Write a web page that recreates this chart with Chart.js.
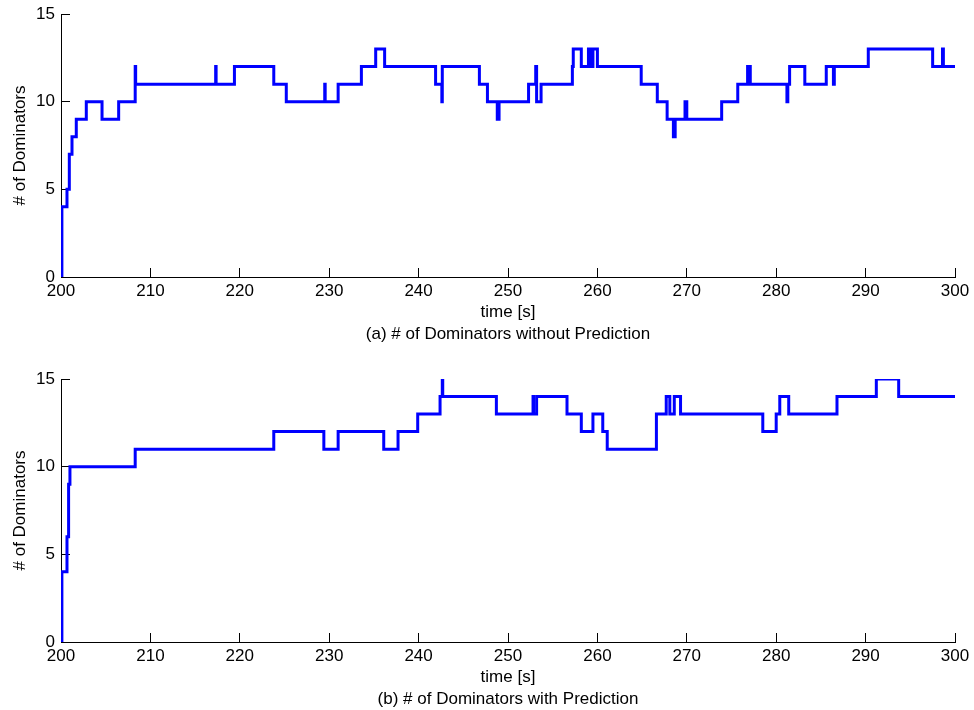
<!DOCTYPE html>
<html>
<head>
<meta charset="utf-8">
<title># of Dominators</title>
<script src="https://cdn.jsdelivr.net/npm/chart.js@4/dist/chart.umd.min.js"></script>
<style>
  html, body { margin: 0; padding: 0; background: #fff; }
  #wrap { position: relative; width: 974px; height: 710px; }
  canvas { position: absolute; left: 0; }
  #plotA { top: 0; }
  #plotB { top: 365px; }
</style>
</head>
<body>
<div id="wrap">
  <canvas id="plotA" width="974" height="345"></canvas>
  <canvas id="plotB" width="974" height="345"></canvas>
</div>
<script>
// change points: at time t the count switches to the value at the same index
const timesNoPred = [200, 200.1, 200.67, 200.93, 201.23, 201.71, 202.83, 204.59, 206.45,
  208.3, 208.35, 217.3, 217.35, 219.4, 223.8, 225.2, 229.5, 229.55, 231.0,
  233.6, 235.2, 236.2, 241.9, 242.6, 242.65, 246.8, 247.7, 248.8, 249.0,
  252.3, 253.1, 253.2, 253.7, 257.2, 257.3, 258.2, 259.0, 259.2, 259.5, 260.0,
  264.9, 266.7, 267.8, 268.5, 268.7, 269.8, 270.0, 273.9, 275.7, 276.8, 277.1,
  281.2, 281.3, 281.5, 283.2, 285.6, 286.4, 286.5, 290.3, 297.5, 298.6, 298.7, 300];
const countNoPred = [0, 4, 5, 7, 8, 9, 10, 9, 10,
  12, 11, 12, 11, 12, 11, 10, 11, 10, 11,
  12, 13, 12, 11, 10, 12, 11, 10, 9, 10,
  11, 12, 10, 11, 12, 13, 12, 13, 12, 13, 12,
  11, 10, 9, 8, 9, 10, 9, 10, 11, 12, 11,
  10, 11, 12, 11, 12, 11, 12, 13, 12, 13, 12, 12];

const timesPred = [200, 200.1, 200.67, 200.85, 201.0, 208.3, 223.8, 229.4, 231.0,
  236.1, 237.7, 239.9, 242.4, 242.65, 242.7, 248.7, 252.8, 252.85, 253.2,
  256.6, 258.2, 259.5, 260.6, 261.1, 266.6, 267.7, 268.1, 268.6, 269.3,
  278.5, 280.0, 280.4, 281.4, 286.8, 291.2, 293.7, 300];
const countPred = [0, 4, 6, 9, 10, 11, 12, 11, 12,
  11, 12, 13, 14, 15, 14, 13, 14, 13, 14,
  13, 12, 13, 12, 11, 13, 14, 13, 14, 13,
  12, 13, 14, 13, 14, 15, 14, 14];

const timeTicks = [200, 300, 10];   // min, max, step
const countTicks = [0, 15, 5];

const fontFamily = '"Liberation Sans", Arial, sans-serif';
Chart.defaults.color = '#000';
Chart.defaults.font.family = fontFamily;
Chart.defaults.font.size = 17;

function makePlot(id, times, counts, caption) {
  const pts = times.map((t, i) => ({ x: t, y: counts[i] }));
  return new Chart(document.getElementById(id), {
    type: 'line',
    data: {
      datasets: [{
        data: pts,
        stepped: 'before',
        borderColor: '#0000ff',
        borderWidth: 3,
        pointRadius: 0,
        fill: false
      }]
    },
    options: {
      responsive: false,
      animation: false,
      events: [],
      layout: { padding: { left: 0, right: 19, top: 14, bottom: 0 } },
      plugins: {
        legend: { display: false },
        tooltip: { enabled: false }
      },
      scales: {
        x: {
          type: 'linear',
          min: timeTicks[0],
          max: timeTicks[1],
          border: { color: '#000', width: 1 },
          grid: { drawOnChartArea: false, color: '#000', tickLength: -9 },
          ticks: { stepSize: timeTicks[2], padding: 13.5, maxRotation: 0, autoSkip: false },
          // axis label with the subplot caption on the line below it
          title: {
            display: true,
            text: ['time [s]', caption],
            font: { size: 17, lineHeight: 22 / 17 },
            padding: { top: 0, bottom: 0 }
          },
          afterFit: (s) => {
            s.height = 68;
            // end labels fit inside the layout padding already
            s.paddingLeft = 0;
            s.paddingRight = 0;
          }
        },
        y: {
          min: countTicks[0],
          max: countTicks[1],
          border: { color: '#000', width: 1 },
          grid: { drawOnChartArea: false, color: '#000', tickLength: -9 },
          ticks: { stepSize: countTicks[2], padding: 15 },
          title: { display: true, text: '# of Dominators', font: { size: 17 }, padding: { top: 9.8, bottom: 0 } },
          afterFit: (s) => {
            s.width = 61;
            s.paddingTop = 0;
            s.paddingBottom = 0;
          }
        }
      }
    }
  });
}

makePlot('plotA', timesNoPred, countNoPred, '(a) # of Dominators without Prediction');
makePlot('plotB', timesPred, countPred, '(b) # of Dominators with Prediction');
</script>
</body>
</html>
